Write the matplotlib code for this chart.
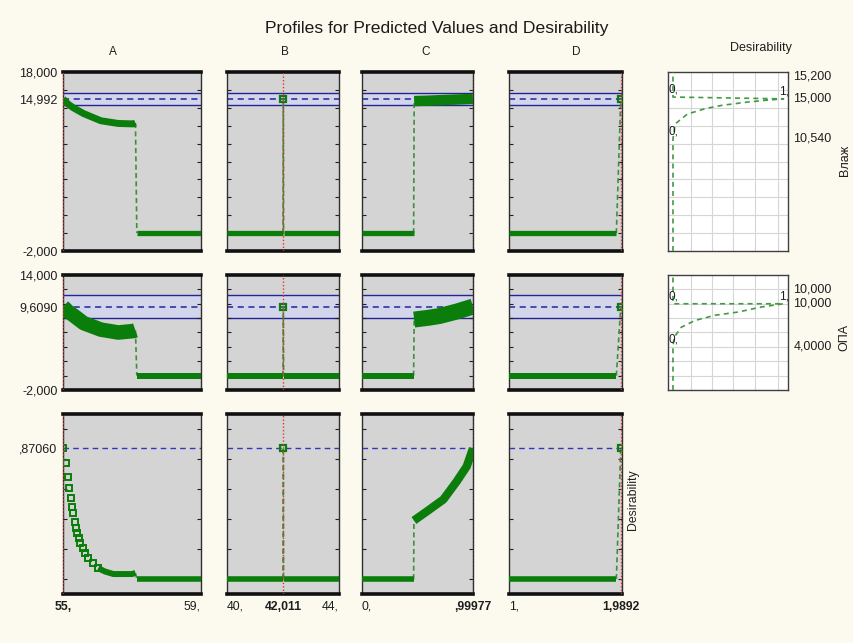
import numpy as np
import matplotlib
matplotlib.use("Agg")
import matplotlib.pyplot as plt
from matplotlib.ticker import FixedLocator, NullFormatter

plt.rcParams['font.family'] = ['Liberation Sans', 'DejaVu Sans']

# ---------------------------------------------------------------- data
title = "Profiles for Predicted Values and Desirability"
factor_names = ["A", "B", "C", "D"]
factor_lims = [(55.0, 59.0), (40.0, 44.0), (0.0, 1.0), (1.0, 2.0)]
factor_current = [55.0, 42.011, 0.99977, 1.9892]
x_tick_vals = [[55.0, 59.0], [40.0, 42.011, 44.0], [0.0, 0.99977], [1.0, 1.9892]]
x_tick_text = [["55,", "59,"], ["40,", "42,011", "44,"], ["0,", ",99977"], ["1,", "1,9892"]]

resp_names = ["Влаж", "ОПА"]
resp_lims = [(-2.0, 18.0), (-2.0, 14.0)]
resp_pred = [14.992, 9.609]
resp_ci_low = [14.30, 8.05]
resp_ci_high = [15.69, 11.17]
resp_tick_vals = [[18.0, 14.992, -2.0], [14.0, 9.609, -2.0]]
resp_tick_text = [["18,000", "14,992", "-2,000"], ["14,000", "9,6090", "-2,000"]]

des_name = "Desirability"
des_lims = (-0.1, 1.1)
des_pred = 0.8706
des_tick_text = ",87060"

# Влаж profiles
vl_A_x = [55.0, 55.15, 55.3, 55.6, 56.1, 56.6, 57.04, 57.1]
vl_A_y = [14.992, 14.4, 14.0, 13.35, 12.55, 12.25, 12.2, 12.3]
vl_A_tail_x = [57.14, 59.0]
vl_A_tail_y = [0.0, 0.0]
vl_B_left_x = [40.0, 42.0]
vl_B_left_y = [0.0, 0.0]
vl_B_pt_x = [42.011]
vl_B_pt_y = [14.992]
vl_B_right_x = [42.02, 44.0]
vl_B_right_y = [0.0, 0.0]
vl_C_low_x = [0.0, 0.465]
vl_C_low_y = [0.0, 0.0]
vl_C_x = [0.47, 0.6, 0.7, 0.85, 0.99977]
vl_C_y = [14.75, 14.8, 14.85, 14.92, 14.992]
vl_D_low_x = [1.0, 1.95]
vl_D_low_y = [0.0, 0.0]
vl_D_pt_x = [1.9892]
vl_D_pt_y = [14.992]

# ОПА profiles
opa_A_x = [55.0, 55.15, 55.3, 55.6, 56.1, 56.6, 57.04, 57.1]
opa_A_y = [9.609, 8.9, 8.4, 7.3, 6.4, 6.0, 6.2, 6.3]
opa_A_tail_x = [57.14, 59.0]
opa_A_tail_y = [0.0, 0.0]
opa_B_left_x = [40.0, 42.0]
opa_B_left_y = [0.0, 0.0]
opa_B_pt_x = [42.011]
opa_B_pt_y = [9.609]
opa_B_right_x = [42.02, 44.0]
opa_B_right_y = [0.0, 0.0]
opa_C_low_x = [0.0, 0.465]
opa_C_low_y = [0.0, 0.0]
opa_C_x = [0.47, 0.6, 0.7, 0.85, 0.99977]
opa_C_y = [7.8, 8.05, 8.3, 8.9, 9.609]
opa_D_low_x = [1.0, 1.95]
opa_D_low_y = [0.0, 0.0]
opa_D_pt_x = [1.9892]
opa_D_pt_y = [9.609]

# overall desirability profiles
des_A_sq_x = [55.0, 55.087, 55.155, 55.184, 55.222, 55.27, 55.3, 55.339, 55.377,
              55.415, 55.455, 55.493, 55.57, 55.638, 55.734, 55.88, 56.02]
des_A_sq_y = [0.8706, 0.773, 0.682, 0.605, 0.538, 0.482, 0.438, 0.382, 0.338,
              0.305, 0.272, 0.238, 0.205, 0.172, 0.138, 0.105, 0.072]
des_A_flat_x = [56.02, 56.217, 56.46, 57.0, 57.1]
des_A_flat_y = [0.072, 0.05, 0.033, 0.033, 0.04]
des_A_tail_x = [57.14, 59.0]
des_A_tail_y = [0.0, 0.0]
des_B_left_x = [40.0, 42.0]
des_B_left_y = [0.0, 0.0]
des_B_pt_x = [42.011]
des_B_pt_y = [0.8706]
des_B_right_x = [42.02, 44.0]
des_B_right_y = [0.0, 0.0]
des_C_low_x = [0.0, 0.465]
des_C_low_y = [0.0, 0.0]
des_C_x = [0.468, 0.583, 0.733, 0.853, 0.943, 0.99977]
des_C_y = [0.39, 0.45, 0.53, 0.65, 0.75, 0.8706]
des_D_low_x = [1.0, 1.95]
des_D_low_y = [0.0, 0.0]
des_D_pt_x = [1.9892]
des_D_pt_y = [0.8706]

# desirability functions of each response (desirability vs response)
vl_fn_resp = [-2.0, 10.54, 12.2, 13.3, 13.9, 14.27, 14.65, 14.83, 15.0, 15.2, 18.0]
vl_fn_des = [0.0, 0.0, 0.02, 0.13, 0.29, 0.44, 0.68, 0.83, 1.0, 0.0, 0.0]
vl_fn_low, vl_fn_target, vl_fn_high = 10.54, 15.0, 15.2
vl_fn_text = ["10,540", "15,000", "15,200"]
opa_fn_resp = [-2.0, 4.0, 5.34, 6.74, 7.68, 8.4, 8.85, 9.55, 10.0, 10.0, 14.0]
opa_fn_des = [0.0, 0.0, 0.01, 0.076, 0.2, 0.38, 0.59, 0.8, 1.0, 0.0, 0.0]
opa_fn_low, opa_fn_target, opa_fn_high = 4.0, 10.0, 10.0
opa_fn_text = ["4,0000", "10,000", "10,000"]

# ---------------------------------------------------------------- styles
BG = '#fcf9ef'
PANEL = '#d4d4d4'
GREEN = '#0a7d0a'
LINK = '#3f8f3f'
BLUE = '#24249a'
BAND = '#d3d5ea'
RED = '#e23232'
TXT = '#1e1e1e'

W, H, DPI = 854, 643, 100
fig = plt.figure(figsize=(W / DPI, H / DPI), dpi=DPI)
fig.patch.set_facecolor(BG)


def px_axes(x0, x1, y0, y1):
    return fig.add_axes([x0 / W, 1 - y1 / H, (x1 - x0) / W, (y1 - y0) / H])


col_px = [(63, 201), (227, 339), (362, 473), (509, 622)]
row_px = [(72, 251), (275, 390), (414, 594)]
des_col_px = (668, 788)

# pieces of each profile: (x, y, kind, width)
profiles = [
    [
        [(vl_A_x, vl_A_y, 'band', 5.0), (vl_A_tail_x, vl_A_tail_y, 'band', 3.8)],
        [(vl_B_left_x, vl_B_left_y, 'band', 3.8), (vl_B_pt_x, vl_B_pt_y, 'point', 0),
         (vl_B_right_x, vl_B_right_y, 'band', 3.8)],
        [(vl_C_low_x, vl_C_low_y, 'band', 3.8), (vl_C_x, vl_C_y, 'band', 7.5)],
        [(vl_D_low_x, vl_D_low_y, 'band', 3.8), (vl_D_pt_x, vl_D_pt_y, 'point', 0)],
    ],
    [
        [(opa_A_x, opa_A_y, 'band', 10.5), (opa_A_tail_x, opa_A_tail_y, 'band', 4.3)],
        [(opa_B_left_x, opa_B_left_y, 'band', 4.3), (opa_B_pt_x, opa_B_pt_y, 'point', 0),
         (opa_B_right_x, opa_B_right_y, 'band', 4.3)],
        [(opa_C_low_x, opa_C_low_y, 'band', 4.3), (opa_C_x, opa_C_y, 'band', 11.5)],
        [(opa_D_low_x, opa_D_low_y, 'band', 4.3), (opa_D_pt_x, opa_D_pt_y, 'point', 0)],
    ],
    [
        [(des_A_sq_x, des_A_sq_y, 'squares', 0), (des_A_flat_x, des_A_flat_y, 'band', 4.3),
         (des_A_tail_x, des_A_tail_y, 'band', 4.0)],
        [(des_B_left_x, des_B_left_y, 'band', 4.0), (des_B_pt_x, des_B_pt_y, 'point', 0),
         (des_B_right_x, des_B_right_y, 'band', 4.0)],
        [(des_C_low_x, des_C_low_y, 'band', 4.0), (des_C_x, des_C_y, 'band', 6.0)],
        [(des_D_low_x, des_D_low_y, 'band', 4.0), (des_D_pt_x, des_D_pt_y, 'point', 0)],
    ],
]

row_lims = [resp_lims[0], resp_lims[1], des_lims]
row_minor = [np.arange(0, 18, 2.0), np.arange(0, 14, 2.0), np.arange(0, 1.01, 0.2)]


def frame(ax):
    ax.spines['top'].set_linewidth(2.6)
    ax.spines['bottom'].set_linewidth(2.6)
    for s in ('left', 'right'):
        ax.spines[s].set_linewidth(1.0)
        ax.spines[s].set_color('#303030')
    for s in ('top', 'bottom'):
        ax.spines[s].set_color('#101010')


for r in range(3):
    for c in range(4):
        ax = px_axes(col_px[c][0], col_px[c][1], row_px[r][0], row_px[r][1])
        ax.set_facecolor(PANEL)
        ax.set_xlim(*factor_lims[c])
        ax.set_ylim(*row_lims[r])
        frame(ax)

        if r < 2:
            ax.axhspan(resp_ci_low[r], resp_ci_high[r], color=BAND, zorder=0.5, lw=0)
            ax.axhline(resp_ci_low[r], color=BLUE, lw=1.0, zorder=1)
            ax.axhline(resp_ci_high[r], color=BLUE, lw=1.0, zorder=1)
            ax.axhline(resp_pred[r], color=BLUE, lw=1.1, ls=(0, (4, 3)), zorder=1)
        else:
            ax.axhline(des_pred, color='#3535c0', lw=1.0, ls=(0, (4, 3)), zorder=1)

        pieces = profiles[r][c]
        # dashed links between consecutive pieces
        for (xa, ya, _, _), (xb, yb, _, _) in zip(pieces[:-1], pieces[1:]):
            ax.plot([xa[-1], xb[0]], [ya[-1], yb[0]], color=LINK, lw=1.2,
                    ls=(0, (3, 2)), zorder=3)
        for xs, ys, kind, w in pieces:
            if kind == 'band':
                ax.plot(xs, ys, color=GREEN, lw=w, solid_capstyle='butt',
                        solid_joinstyle='round', zorder=4)
            elif kind == 'squares':
                ax.plot(xs, ys, ls='none', marker='s', ms=4.4, mfc='none',
                        mec=GREEN, mew=1.4, zorder=4)
            else:
                ax.plot(xs, ys, ls='none', marker='s', ms=4.0, mfc='none',
                        mec=GREEN, mew=1.6, zorder=5)

        ax.axvline(factor_current[c], color=RED, lw=1.0, ls=(0, (1, 1.5)), zorder=6)

        # ticks
        ax.yaxis.set_minor_locator(FixedLocator(row_minor[r]))
        ax.yaxis.set_minor_formatter(NullFormatter())
        ax.tick_params(axis='y', which='minor', direction='in', length=3,
                       width=0.8, left=True, right=True, color='#202020')
        if c == 0:
            if r < 2:
                ax.set_yticks(resp_tick_vals[r])
                ax.set_yticklabels(resp_tick_text[r])
            else:
                ax.set_yticks([des_pred])
                ax.set_yticklabels([des_tick_text])
            ax.tick_params(axis='y', which='major', length=0, pad=4,
                           labelsize=9, labelcolor=TXT)
        else:
            ax.set_yticks([])

        if r == 2:
            ax.set_xticks(x_tick_vals[c])
            ax.set_xticklabels(x_tick_text[c])
            ax.tick_params(axis='x', which='major', length=0, pad=5,
                           labelsize=8.8, labelcolor=TXT)
            lo, hi = factor_lims[c]
            for v, lab in zip(x_tick_vals[c], ax.get_xticklabels()):
                if v == factor_current[c]:
                    lab.set_fontweight('bold')
                    lab.set_horizontalalignment('center')
                elif v == lo:
                    lab.set_horizontalalignment('left')
                elif v == hi:
                    lab.set_horizontalalignment('right')
        else:
            ax.set_xticks([])

# desirability function panels
des_grid_x = [0.167, 0.355, 0.545, 0.745, 0.952]
fn_data = [
    (vl_fn_resp, vl_fn_des, vl_fn_low, vl_fn_target, vl_fn_high, vl_fn_text, 15.0),
    (opa_fn_resp, opa_fn_des, opa_fn_low, opa_fn_target, opa_fn_high, opa_fn_text, 10.4),
]
for r in range(2):
    resp, dval, low, target, high, texts, lift = fn_data[r]
    dax = px_axes(des_col_px[0], des_col_px[1], row_px[r][0], row_px[r][1])
    dax.set_facecolor('white')
    dax.set_xlim(-0.045, 1.04)
    dax.set_ylim(*resp_lims[r])
    for s in dax.spines.values():
        s.set_color('#404040')
        s.set_linewidth(1.0)
    dax.set_xticks(des_grid_x)
    dax.set_yticks(row_minor[r])
    dax.set_xticklabels([])
    dax.set_yticklabels([])
    dax.tick_params(length=0)
    dax.grid(True, color='#d6d6d6', lw=0.8)
    dax.set_axisbelow(True)
    dax.plot(dval, resp, color='#449944', lw=1.2, ls=(0, (3, 2.5)), zorder=3)
    # value markers on the desirability curve
    for dv, yv in ((0.0, high), (1.0, target), (0.0, low)):
        dax.annotate(f"{int(dv)},", xy=(dv, yv), xytext=(0, 1), textcoords='offset points',
                     ha='center', va='bottom', fontsize=8.5, color=TXT)
    # right-hand labels: low, target, high (high lifted to keep clear of target)
    for val, txt, dy in ((low, texts[0], 0), (target, texts[1], 0), (high, texts[2], lift)):
        dax.annotate(txt, xy=(1, val), xycoords=('axes fraction', 'data'),
                     xytext=(4, dy), textcoords='offset points', ha='left',
                     va='center', fontsize=9, color=TXT, annotation_clip=False)

# texts
fig.text(437 / W, 1 - 29 / H, title, ha='center', va='center', fontsize=12.6,
         color='#1a1a1a')
header_px = [(113, 52), (285, 52), (426, 52), (576, 52)]
for name, (hx, hy) in zip(factor_names, header_px):
    fig.text(hx / W, 1 - hy / H, name, ha='center', va='center', fontsize=8.5,
             color=TXT)
fig.text(761 / W, 1 - 48 / H, des_name, ha='center', va='center', fontsize=9,
         color=TXT)
fig.text(845 / W, 1 - 160 / H, resp_names[0], rotation=90, ha='center',
         va='center', fontsize=9, color=TXT)
fig.text(844 / W, 1 - 337 / H, resp_names[1], rotation=90, ha='center',
         va='center', fontsize=9, color=TXT)
fig.text(633 / W, 1 - 500 / H, des_name, rotation=90, ha='center',
         va='center', fontsize=8.8, color=TXT)

fig.savefig("out.png", dpi=DPI, facecolor=BG)
